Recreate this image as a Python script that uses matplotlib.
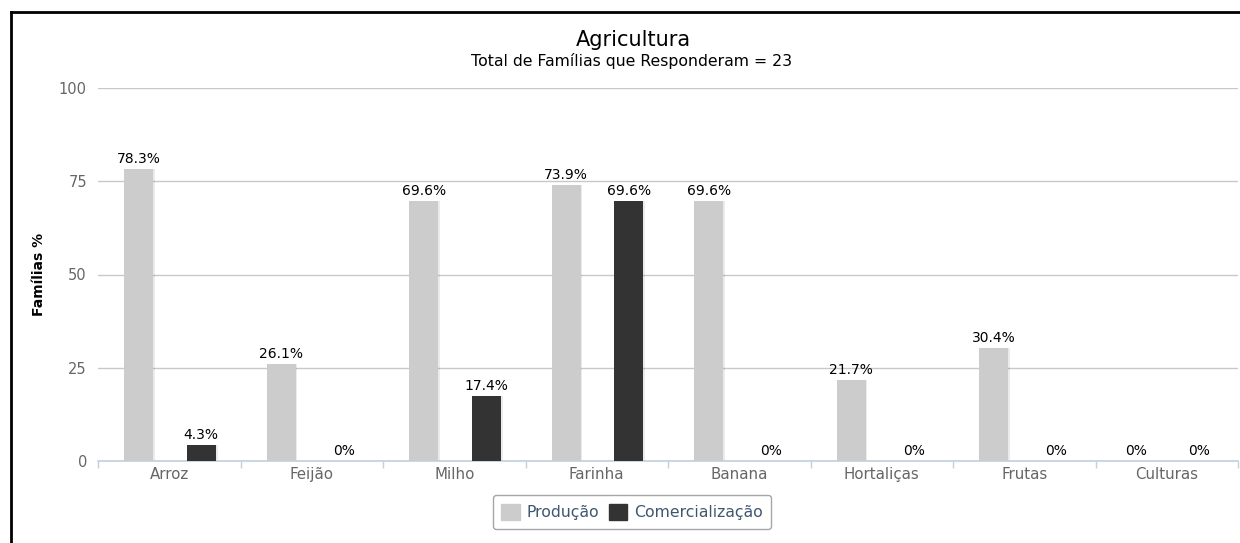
import matplotlib
matplotlib.use("Agg")
import matplotlib.pyplot as plt
import numpy as np
from matplotlib.lines import Line2D
from matplotlib.patches import Patch

categories = ["Arroz", "Feijão", "Milho", "Farinha", "Banana", "Hortaliças", "Frutas", "Culturas"]
producao = [78.3, 26.1, 69.6, 73.9, 69.6, 21.7, 30.4, 0]
comercializacao = [4.3, 0, 17.4, 69.6, 0, 0, 0, 0]
series_names = ["Produção", "Comercialização"]
series_colors = ["#CCCCCC", "#333333"]
yticks = [0, 25, 50, 75, 100]

W, H = 1240, 543
fig = plt.figure(figsize=(W / 100, H / 100), dpi=100)
fig.patch.set_facecolor("white")

ax = fig.add_axes([98 / W, 1 - 461 / H, 1140 / W, 373 / H])
x = np.arange(len(categories))
bw = 0.205
offsets = [-0.215, 0.225]

for vals, off, col in zip([producao, comercializacao], offsets, series_colors):
    # soft shadow behind each bar
    ax.bar(x + off + 0.012, vals, width=bw, color="#000000", alpha=0.08, zorder=2)
    bars = ax.bar(x + off, vals, width=bw, color=col, zorder=3)
    for b, v in zip(bars, vals):
        label = f"{v:g}%"
        ax.text(b.get_x() + b.get_width() / 2, v + 0.8, label,
                ha="center", va="bottom", fontsize=10, color="#000000",
                family="DejaVu Sans", zorder=4)

ax.set_xlim(-0.5, len(categories) - 0.5)
ax.set_ylim(0, 100)
ax.set_yticks(yticks)
ax.set_yticklabels([str(t) for t in yticks], color="#666666", fontsize=10.5)
ax.yaxis.grid(True, color="#C8C8C8", linewidth=1.0, zorder=0)
ax.set_axisbelow(True)
ax.tick_params(axis="y", length=0, pad=8)

ax.set_xticks(x)
ax.set_xticklabels(categories, color="#666666", fontsize=10.8)
ax.tick_params(axis="x", length=0, pad=4)
# boundary ticks between categories
ax.set_xticks(np.arange(len(categories) + 1) - 0.5, minor=True)
ax.tick_params(axis="x", which="minor", length=5, color="#C0D0E0", width=1)

for s in ["top", "right", "left"]:
    ax.spines[s].set_visible(False)
ax.spines["bottom"].set_color("#C0D0E0")
ax.spines["bottom"].set_linewidth(1.2)

ax.set_ylabel("Famílias %", fontsize=10, fontweight="bold", color="#000000", labelpad=9)

fig.text(633 / W, 1 - 40 / H, "Agricultura", ha="center", va="center",
         fontsize=15, color="#000000")
fig.text(632 / W, 1 - 61 / H, "Total de Famílias que Responderam = 23", ha="center",
         va="center", fontsize=11.3, color="#000000")

handles = [Patch(facecolor=c, edgecolor=c) for c in series_colors]
leg = fig.legend(handles, series_names, loc="center", bbox_to_anchor=(632 / W, 1 - 512 / H),
                 ncol=2, frameon=True, fontsize=11.3, handlelength=1.2, handleheight=1.2,
                 columnspacing=0.6, handletextpad=0.4, borderpad=0.55, fancybox=True)
leg.get_frame().set_edgecolor("#909090")
leg.get_frame().set_linewidth(1.0)
for t in leg.get_texts():
    t.set_color("#3E576F")

# outer frame lines along the left and top edges
fig.add_artist(Line2D([11 / W, 11 / W], [0, 1 - 12 / H], transform=fig.transFigure,
                      color="black", linewidth=2))
fig.add_artist(Line2D([11 / W, 1], [1 - 12 / H, 1 - 12 / H], transform=fig.transFigure,
                      color="black", linewidth=2))

fig.savefig("out.png", dpi=100, facecolor="white")
